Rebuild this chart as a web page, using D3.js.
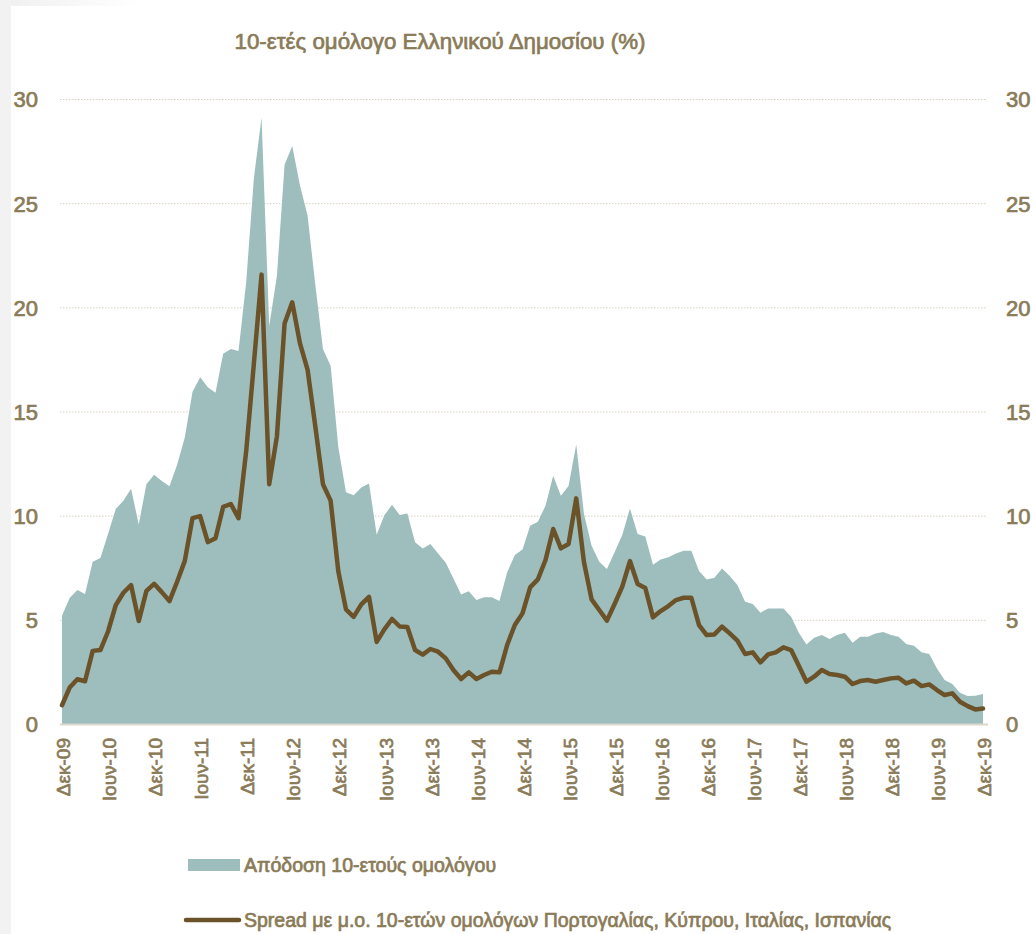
<!DOCTYPE html>
<html>
<head>
<meta charset="utf-8">
<script src="https://cdnjs.cloudflare.com/ajax/libs/d3/7.8.5/d3.min.js"></script>
<style>
  body { margin: 0; background: #fff; }
  svg text {
    font-family: "Liberation Sans", Arial, sans-serif;
    fill: #8a7b58;
    stroke: #8a7b58;
    stroke-width: 0.7px;
  }
</style>
</head>
<body>
<div id="chart"></div>
<script>
// monthly values, Dec-09 .. Dec-19 (121 months)
let yieldVals = [5.2, 6.05, 6.43, 6.24, 7.79, 7.97, 9.12, 10.32, 10.72, 11.29,
  9.58, 11.51, 11.97, 11.67, 11.41, 12.45, 13.75, 15.94, 16.65, 16.16,
  15.9, 17.77, 18.0, 17.9, 21.2, 26.2, 29.1, 19.1, 21.5, 26.85,
  27.75, 25.86, 24.4, 21.1, 18.0, 17.2, 13.3, 11.12, 10.98, 11.35,
  11.55, 9.09, 10.02, 10.52, 10.03, 10.11, 8.72, 8.43, 8.64, 8.19,
  7.74, 6.99, 6.22, 6.37, 5.95, 6.08, 6.08, 5.9, 7.28, 8.11,
  8.38, 9.52, 9.71, 10.48, 11.92, 10.96, 11.42, 13.42, 10.11, 8.56,
  7.79, 7.44, 8.24, 9.07, 10.35, 9.12, 9.0, 7.65, 7.9, 8.0,
  8.19, 8.32, 8.32, 7.34, 6.94, 7.02, 7.47, 7.10, 6.67, 5.87,
  5.76, 5.34, 5.55, 5.55, 5.55, 5.15, 4.38, 3.82, 4.14, 4.27,
  4.08, 4.27, 4.38, 3.90, 4.19, 4.19, 4.35, 4.42, 4.27, 4.19,
  3.84, 3.76, 3.44, 3.36, 2.67, 2.11, 1.92, 1.50, 1.34, 1.36, 1.44];

let spreadVals = [0.9, 1.75, 2.15, 2.05, 3.51, 3.55, 4.44, 5.7, 6.3, 6.67,
  4.94, 6.39, 6.73, 6.33, 5.9, 6.83, 7.83, 9.88, 9.98, 8.73,
  8.92, 10.42, 10.56, 9.88, 13.1, 17.3, 21.57, 11.51, 13.8, 19.22,
  20.24, 18.28, 17.0, 14.3, 11.51, 10.72, 7.33, 5.5, 5.14, 5.74,
  6.1, 3.94, 4.54, 5.04, 4.68, 4.66, 3.55, 3.33, 3.6, 3.47,
  3.15, 2.59, 2.16, 2.48, 2.16, 2.35, 2.51, 2.48, 3.79, 4.75,
  5.31, 6.56, 6.94, 7.87, 9.36, 8.43, 8.64, 10.83, 7.79, 5.98,
  5.47, 4.96, 5.76, 6.59, 7.82, 6.72, 6.53, 5.12, 5.42, 5.66,
  5.95, 6.06, 6.06, 4.75, 4.27, 4.30, 4.67, 4.35, 4.0, 3.36,
  3.44, 2.96, 3.34, 3.44, 3.68, 3.55, 2.80, 2.03, 2.27, 2.59,
  2.40, 2.35, 2.27, 1.92, 2.06, 2.11, 2.03, 2.11, 2.19, 2.22,
  1.95, 2.08, 1.82, 1.90, 1.63, 1.39, 1.47, 1.07, 0.86, 0.70, 0.74];

let tickLabels = ["Δεκ-09", "Ιουν-10", "Δεκ-10", "Ιουν-11", "Δεκ-11", "Ιουν-12", "Δεκ-12",
  "Ιουν-13", "Δεκ-13", "Ιουν-14", "Δεκ-14", "Ιουν-15", "Δεκ-15", "Ιουν-16", "Δεκ-16",
  "Ιουν-17", "Δεκ-17", "Ιουν-18", "Δεκ-18", "Ιουν-19", "Δεκ-19"];
let yTicks = [0, 5, 10, 15, 20, 25, 30];

let title = "10-ετές ομόλογο Ελληνικού Δημοσίου (%)";
let legendNames = ["Απόδοση 10-ετούς ομολόγου",
  "Spread με μ.ο. 10-ετών ομολόγων Πορτογαλίας, Κύπρου, Ιταλίας, Ισπανίας"];

let areaColor = "#9dbebd";
let lineColor = "#6b5229";
let textColor = "#8a7b58";

let W = 1035, H = 934;
let left = 60, right = 986;

let svg = d3.select("#chart").append("svg")
    .attr("width", W)
    .attr("height", H);

// faint frame of the original slide
let grad = svg.append("defs").append("linearGradient")
    .attr("id", "topfade");
grad.append("stop").attr("offset", "0%").attr("stop-color", "#efefef");
grad.append("stop").attr("offset", "100%").attr("stop-color", "#ffffff");
svg.append("rect").attr("x", 0).attr("y", 0).attr("width", 140).attr("height", 6)
    .attr("fill", "url(#topfade)");
svg.append("rect").attr("x", 0).attr("y", 0).attr("width", 11).attr("height", H)
    .attr("fill", "#f2f2f2");

let x = d3.scaleLinear()
    .domain([0, yieldVals.length - 1])
    .range([62, 983]);

let y = d3.scaleLinear()
    .domain([0, 30])
    .range([724, 99]);

// dotted gridlines
let grid = svg.append("g")
    .attr("transform", "translate(" + left + ",0)")
    .call(d3.axisLeft(y).tickValues(yTicks.slice(1)).tickSize(-(right - left)).tickFormat(""));
grid.select(".domain").remove();
grid.selectAll("line")
    .attr("stroke", "#d8d1c0")
    .attr("stroke-dasharray", "1.5,1.5");

// area: 10y yield
let area = d3.area()
    .x(function(d, i) { return x(i); })
    .y0(y(0))
    .y1(function(d) { return y(d); });

svg.append("path")
    .datum(yieldVals)
    .attr("d", area)
    .attr("fill", areaColor);

// baseline
svg.append("line")
    .attr("x1", left).attr("x2", right + 2)
    .attr("y1", y(0) + 0.5).attr("y2", y(0) + 0.5)
    .attr("stroke", "#dcd7ca")
    .attr("stroke-width", 2);

// spread line
let line = d3.line()
    .x(function(d, i) { return x(i); })
    .y(function(d) { return y(d); });

svg.append("path")
    .datum(spreadVals)
    .attr("d", line)
    .attr("fill", "none")
    .attr("stroke", lineColor)
    .attr("stroke-width", 4.5)
    .attr("stroke-linejoin", "round")
    .attr("stroke-linecap", "round");

// y axes, both sides
let yLeft = svg.append("g")
    .attr("transform", "translate(" + left + ",0)")
    .call(d3.axisLeft(y).tickValues(yTicks).tickSize(0).tickPadding(22));
let yRight = svg.append("g")
    .attr("transform", "translate(" + right + ",0)")
    .call(d3.axisRight(y).tickValues(yTicks).tickSize(0).tickPadding(20));
[yLeft, yRight].forEach(function(g) {
    g.select(".domain").remove();
    g.selectAll("text")
        .attr("fill", textColor)
        .style("font-size", "22px")
        .attr("dy", "0.36em");
});

// x axis, rotated labels every 6 months
let xTickVals = tickLabels.map(function(d, i) { return i * 6; });
let xAxis = svg.append("g")
    .attr("transform", "translate(0," + y(0) + ")")
    .call(d3.axisBottom(x).tickValues(xTickVals).tickSize(0)
        .tickFormat(function(d) { return tickLabels[d / 6]; }));
xAxis.select(".domain").remove();
xAxis.selectAll("text")
    .attr("fill", textColor)
    .style("font-size", "19px")
    .attr("text-anchor", "end")
    .attr("transform", "rotate(-90)")
    .attr("x", -14)
    .attr("y", 1)
    .attr("dy", "0.35em");

// title
svg.append("text")
    .attr("x", 440)
    .attr("y", 49)
    .attr("text-anchor", "middle")
    .style("font-size", "22.3px")
    .text(title);

// legend
svg.append("rect")
    .attr("x", 188).attr("y", 859)
    .attr("width", 52).attr("height", 12)
    .attr("fill", areaColor);
svg.append("line")
    .attr("x1", 186).attr("x2", 239)
    .attr("y1", 920).attr("y2", 920)
    .attr("stroke", lineColor)
    .attr("stroke-width", 4.5)
    .attr("stroke-linecap", "round");
svg.selectAll(".legend-text")
    .data(legendNames)
    .enter().append("text")
    .attr("class", "legend-text")
    .attr("x", 244)
    .attr("y", function(d, i) { return 872 + i * 55; })
    .style("font-size", "19.5px")
    .text(function(d) { return d; });
</script>
</body>
</html>
